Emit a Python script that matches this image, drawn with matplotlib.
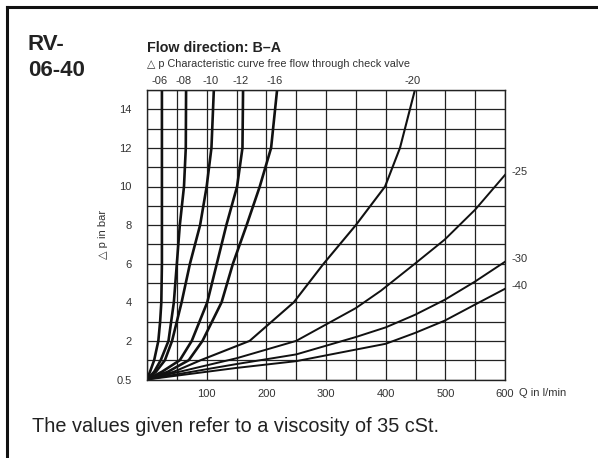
import matplotlib.pyplot as plt
from matplotlib.lines import Line2D

plt.rcParams['font.family'] = ['Liberation Sans', 'DejaVu Sans']

# Curves: flow Q in l/min, pressure drop in bar
q_06 = [0, 5, 12, 19, 22, 24, 25, 25, 25]
p_06 = [0, 0.4, 1, 2, 3, 4, 6, 10, 15]

q_08 = [0, 12, 23, 36, 45, 50, 55, 62, 65, 65.5]
p_08 = [0, 0.4, 1, 2, 4, 6, 8, 10, 12, 15]

q_10 = [0, 15, 30, 42, 58, 72, 89, 100, 108, 112]
p_10 = [0, 0.4, 1, 2, 4, 6, 8, 10, 12, 15]

q_12 = [0, 25, 55, 75, 101, 117, 133, 151, 160, 161]
p_12 = [0, 0.4, 1, 2, 4, 6, 8, 10, 12, 15]

q_16 = [0, 35, 70, 93, 125, 144, 167, 189, 208, 218]
p_16 = [0, 0.4, 1, 2, 4, 6, 8, 10, 12, 15]

q_20 = [0, 45, 90, 172, 246, 296, 350, 399, 424, 449]
p_20 = [0, 0.4, 1, 2, 4, 6, 8, 10, 12, 15]

q_25 = [0, 150, 250, 350, 392, 449, 499, 550, 600]
p_25 = [0, 1.1, 2.0, 3.7, 4.6, 6.0, 7.25, 8.8, 10.6]

q_30 = [0, 150, 250, 350, 400, 449, 499, 549, 600]
p_30 = [0, 0.8, 1.3, 2.2, 2.7, 3.35, 4.13, 5.06, 6.1]

q_40 = [0, 150, 250, 400, 449, 499, 549, 600]
p_40 = [0, 0.6, 0.95, 1.85, 2.41, 3.05, 3.87, 4.7]

top_curves = [('-06', q_06, p_06), ('-08', q_08, p_08), ('-10', q_10, p_10),
              ('-12', q_12, p_12), ('-16', q_16, p_16)]
mid_curves = [('-20', q_20, p_20)]
side_curves = [('-25', q_25, p_25), ('-30', q_30, p_30), ('-40', q_40, p_40)]

x_ticks = [100, 200, 300, 400, 500, 600]
y_ticks = [0, 2, 4, 6, 8, 10, 12, 14]
y_tick_labels = ['0.5', '2', '4', '6', '8', '10', '12', '14']

fig = plt.figure(figsize=(5.98, 4.58), dpi=100)
ax = fig.add_axes([147 / 598, 1 - 379.5 / 458, 358 / 598, 289.5 / 458])

dark = '#111111'
txt = '#333333'

for name, q, p in top_curves + mid_curves:
    lw = 1.9 if name != '-20' else 1.5
    ax.plot(q, p, color=dark, lw=lw, solid_capstyle='butt', clip_on=True)
    ax.annotate(name, (q[-1], 15), xytext=(-2, 3), textcoords='offset points',
                ha='center', va='bottom', fontsize=8, color=txt, annotation_clip=False)

for name, q, p in side_curves:
    ax.plot(q, p, color=dark, lw=1.4)
    ax.annotate(name, (q[-1], p[-1]), xytext=(5, 2), textcoords='offset points',
                ha='left', va='center', fontsize=8, color=txt, annotation_clip=False)

ax.set_xlim(0, 600)
ax.set_ylim(0, 15)
ax.set_xticks(x_ticks)
ax.set_xticks(range(0, 601, 50), minor=True)
ax.set_yticks(y_ticks)
ax.set_yticklabels(y_tick_labels)
ax.set_yticks(range(0, 16), minor=True)
ax.grid(True, which='both', color='#222222', lw=0.9)
ax.tick_params(which='both', length=0, labelsize=8, labelcolor=txt)
ax.tick_params(axis='x', pad=7)
ax.tick_params(axis='y', pad=11)
for s in ax.spines.values():
    s.set_color('#222222')
    s.set_linewidth(1.0)

ax.annotate('Q in l/min', (600, 0), xytext=(10, -9.5), textcoords='offset points',
            ha='left', va='center', fontsize=8, color=txt, annotation_clip=False)
ax.set_ylabel('\u25b3 p in bar', fontsize=8, color=txt, labelpad=6)

# headings
fig.text(28 / 598, 1 - 45 / 458, 'RV-', fontsize=16, fontweight='bold', color='#222222', va='center')
fig.text(28 / 598, 1 - 71 / 458, '06-40', fontsize=16, fontweight='bold', color='#222222', va='center')
fig.text(147 / 598, 1 - 48 / 458, 'Flow direction: B\u2013A', fontsize=10.3, fontweight='bold',
         color='#222222', va='center')
fig.text(147 / 598, 1 - 64 / 458, '\u25b3 p Characteristic curve free flow through check valve',
         fontsize=7.8, color=txt, va='center')
fig.text(32 / 598, 1 - 426 / 458, 'The values given refer to a viscosity of 35 cSt.',
         fontsize=14.3, color='#222222', va='center')

# outer frame
fig.add_artist(Line2D([7 / 598, 1.0], [1 - 7 / 458, 1 - 7 / 458], color='#111111', lw=2.2))
fig.add_artist(Line2D([7 / 598, 7 / 598], [0.0, 1 - 7 / 458], color='#111111', lw=2.2))

fig.savefig('out.png', dpi=100)
